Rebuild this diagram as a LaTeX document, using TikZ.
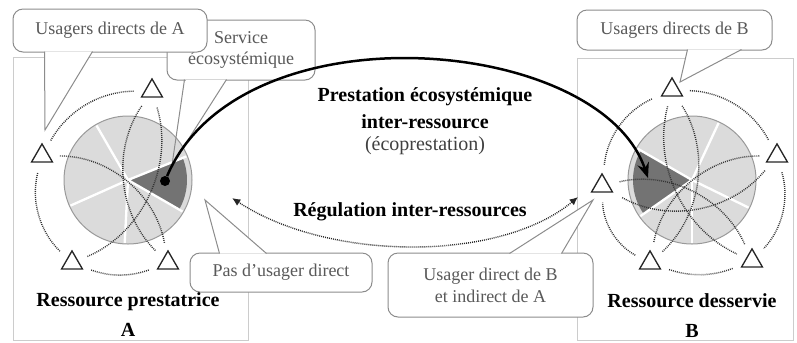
\documentclass[tikz,border=0pt]{standalone}
\usepackage{fontspec}
\setmainfont{Liberation Serif}
\usepackage{tikz}
\usetikzlibrary{arrows.meta,positioning,shapes.geometric,calc}

\begin{document}
\begin{tikzpicture}[x=0.6pt,y=-0.6pt,>=Stealth,
  panel/.style={draw=black!20,line width=0.6pt},
  bubble/.style={rectangle,rounded corners=6pt,fill=white,draw=black!45,line width=0.6pt,text=black!65,font=\fontsize{10.8}{13}\selectfont,align=center,inner sep=0pt},
  beak/.style={draw=black!45,line width=0.6pt},
  disc/.style={circle,fill=black!14,draw=black!40,line width=0.6pt,minimum size=76.8pt,inner sep=0pt},
  share/.style={fill=black!55},
  spoke/.style={draw=white,line width=1.4pt},
  user/.style={regular polygon,regular polygon sides=3,draw=black!85,fill=white,line width=0.8pt,inner sep=0pt,minimum size=14.5pt},
  link/.style={draw=black!80,line width=0.85pt,dash pattern=on 0.55pt off 0.65pt,shorten <=6pt,shorten >=6pt},
  heading/.style={font=\bfseries\fontsize{12}{16}\selectfont,align=center},
  prestation/.style={draw=black,line width=1.5pt,-{Stealth[length=9pt,width=7pt]}},
  regul/.style={draw=black!85,line width=0.85pt,dash pattern=on 0.55pt off 0.65pt,{Latex[length=5pt,width=4.5pt]}-{Latex[length=5pt,width=4.5pt]}},
]
\useasboundingbox (0,0) rectangle (797,342);

% cadres des ressources
\draw[panel] (13,57) rectangle (248,340);
\draw[panel] (577,58) rectangle (793,340);

% ressource A
\node[disc] (cA) at (128,180) {};
\fill[share] (cA.center) -- ++(-22:59) arc[start angle=-22,end angle=30,radius=59] -- cycle;
\foreach \a in {-22,30,-120,-204,-267}
  \draw[spoke] (cA.center) -- ++(\a:63);

% ressource B
\node[disc] (cB) at (692,180) {};
\fill[share] (cB.center) -- ++(-150:59) arc[start angle=-150,end angle=-215,radius=59] -- cycle;
\foreach \a in {-150,-215,-65,26,-270}
  \draw[spoke] (cB.center) -- ++(\a:63);

% usagers
\node[user] (tAt) at (152,91) {};
\node[user] (tAl) at (42,156) {};
\node[user] (tAbl) at (72,263) {};
\node[user] (tAbr) at (168,263) {};
\node[user] (tBt) at (672,90) {};
\node[user] (tBr) at (777,156) {};
\node[user] (tBbr) at (752,261) {};
\node[user] (tBbl) at (650,263) {};
\node[user] (tBl) at (602,186) {};

% liens d'usage autour de A
\draw[link] (tAl) to[bend left=30] (tAt);
\draw[link] (tAbl) to[bend left=30] (tAl);
\draw[link] (tAbr) to[bend left=20] (tAbl);
\draw[link] (tAt) to[bend right=40] (tAbr);
\draw[link] (tAbr) to[bend right=40] (tAl);
\draw[link] (tAbl) to[bend right=42] (tAt);

% liens d'usage autour de B
\draw[link] (tBt) to[bend left=30] (tBr);
\draw[link] (tBr) to[bend left=30] (tBbr);
\draw[link] (tBbr) to[bend left=20] (tBbl);
\draw[link] (tBbl) to[bend left=30] (tBl);
\draw[link] (tBl) to[bend left=30] (tBt);
\draw[link] (tBt) to[bend right=40] (tBbr);
\draw[link] (tBr) to[bend right=40] (tBbl);
\draw[link] (tBbr) to[bend right=40] (tBl);
\draw[link] (tBbl) to[bend right=40] (tBt);
\draw[link] (tBl) to[bend right=40] (tBr);

% bulles
\node[bubble,minimum width=88.8pt,minimum height=36pt] (serv) at (241,50) {Service\\écosystémique};
\coordinate (servTip) at (172,165);
\draw[white,line width=1.2pt] ($(serv.south west)+(19,0)$) -- ($(serv.south west)+(59,0)$);
\draw[beak] ($(serv.south west)+(18,-1)$) -- (servTip) -- ($(serv.south west)+(60,-1)$);

\node[bubble,minimum width=116.4pt,minimum height=25.8pt] (usA) at (110,30.5) {Usagers directs de A};
\coordinate (usATip) at (45,130);
\fill[white] ($(usA.south west)+(32,-1)$) -- (usATip) -- ($(usA.south west)+(80,-1)$) -- cycle;
\draw[beak] ($(usA.south west)+(32,-1)$) -- (usATip) -- ($(usA.south west)+(80,-1)$);

\node[bubble,minimum width=117pt,minimum height=24pt] (usB) at (674.5,30) {Usagers directs de B};
\coordinate (usBTip) at (680,82);
\fill[white] ($(usB.south west)+(111,-1)$) -- (usBTip) -- ($(usB.south west)+(165,-1)$) -- cycle;
\draw[beak] ($(usB.south west)+(111,-1)$) -- (usBTip) -- ($(usB.south west)+(165,-1)$);

\node[bubble,minimum width=109.2pt,minimum height=23.4pt] (none) at (281,272.5) {Pas d'usager direct};
\coordinate (noneTip) at (205,200);
\fill[white] ($(none.north west)+(30,1)$) -- (noneTip) -- ($(none.north west)+(77,1)$) -- cycle;
\draw[beak] ($(none.north west)+(30,1)$) -- (noneTip) -- ($(none.north west)+(77,1)$);

\node[bubble,minimum width=123pt,minimum height=38.4pt] (indir) at (490.5,285) {Usager direct de B\\et indirect de A};
\coordinate (indirTip) at (593,200);
\fill[white] ($(indir.north west)+(122,1)$) -- (indirTip) -- ($(indir.north west)+(174,1)$) -- cycle;
\draw[beak] ($(indir.north west)+(122,1)$) -- (indirTip) -- ($(indir.north west)+(174,1)$);

% flux entre ressources
\node[circle,fill=black,inner sep=0pt,minimum size=6pt] (dotA) at (165,181) {};
\coordinate (tipB) at (648,178);
\draw[prestation] (dotA) .. controls (240,5) and (600,35) .. (tipB);
\coordinate (regA) at (232,198);
\coordinate (regB) at (578,197);
\draw[regul] (regA) .. controls (330,262) and (500,262) .. (regB);

% textes
\node[heading] (prest) at (425,108) {Prestation écosystémique\\inter-ressource};
\node[font=\fontsize{12}{14}\selectfont,text=black!75,below=-2pt of prest] (ecop) {(écoprestation)};
\node[heading] (regt) at (410,212) {Régulation inter-ressources};
\node[heading,font=\bfseries\fontsize{12}{18}\selectfont] (resA) at (128,315) {Ressource prestatrice\\A};
\node[heading,font=\bfseries\fontsize{12}{18}\selectfont] (resB) at (692,316) {Ressource desservie\\B};
\end{tikzpicture}
\end{document}
